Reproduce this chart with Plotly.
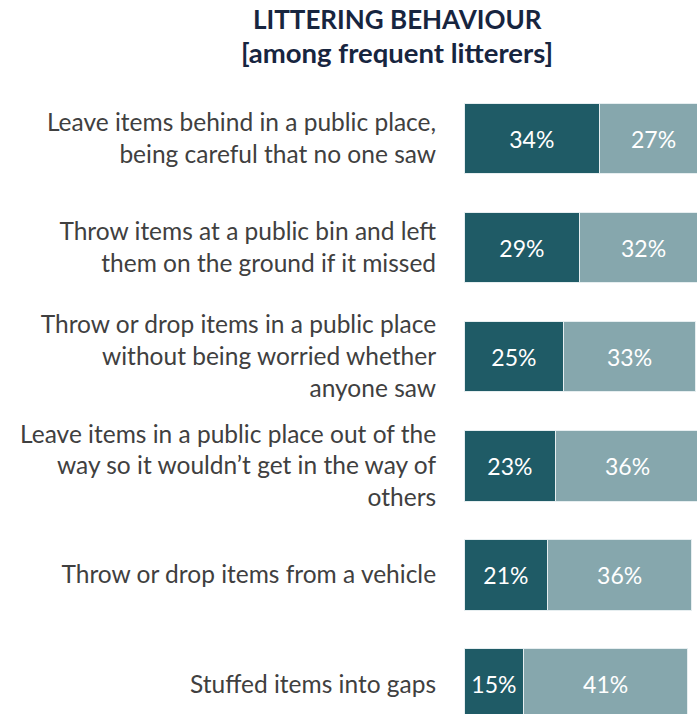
import plotly.graph_objects as go

categories = [
    "Leave items behind in a public place,<br>being careful that no one saw",
    "Throw items at a public bin and left<br>them on the ground if it missed",
    "Throw or drop items in a public place<br>without being worried whether<br>anyone saw",
    "Leave items in a public place out of the<br>way so it wouldn’t get in the way of<br>others",
    "Throw or drop items from a vehicle",
    "Stuffed items into gaps",
]
series_a = [34, 29, 25, 23, 21, 15]
series_b = [27, 32, 33, 36, 36, 41]
labels_a = [f"{v}%" for v in series_a]
labels_b = [f"{v}%" for v in series_b]
title_lines = ["LITTERING BEHAVIOUR", "[among frequent litterers]"]

DARK = "#1F5B66"
LIGHT = "#86A7AD"
H, TOP = 714, 84

def py(p):
    return 1 + (TOP - p) / (H - TOP)

fig = go.Figure()
for vals, labs, col in [(series_a, labels_a, DARK), (series_b, labels_b, LIGHT)]:
    fig.add_trace(go.Bar(
        y=categories, x=vals, orientation="h",
        marker=dict(color=col, line=dict(color="#E6EEF0", width=1)),
        text=labs, textposition="inside", insidetextanchor="middle",
        textfont=dict(family="Lato", size=23, color="white"),
        cliponaxis=True, constraintext="none",
    ))

for txt, ypx, fs in zip(title_lines, [19.5, 52.5], [26, 27.5]):
    fig.add_annotation(
        text=f"<b>{txt}</b>", xref="paper", yref="paper",
        x=(397 - 464) / 233, y=py(ypx), xanchor="center", yanchor="middle",
        showarrow=False, font=dict(family="Lato", size=fs, color="#17253F"),
    )

fig.update_layout(
    barmode="stack",
    bargap=0.355,
    width=697, height=H,
    margin=dict(l=464, r=0, t=TOP, b=0, autoexpand=False),
    paper_bgcolor="white", plot_bgcolor="white",
    showlegend=False,
    font=dict(family="Lato"),
)
fig.update_xaxes(range=[0, 233 / 3.99], visible=False, fixedrange=True)
fig.update_yaxes(
    range=[5.275, -0.5], showgrid=False, showline=False, zeroline=False,
    ticks="outside", ticklen=22, tickcolor="rgba(0,0,0,0)",
    tickfont=dict(family="Lato", size=24.5, color="#404040"),
    automargin=False,
)

fig.write_html("out.html")
